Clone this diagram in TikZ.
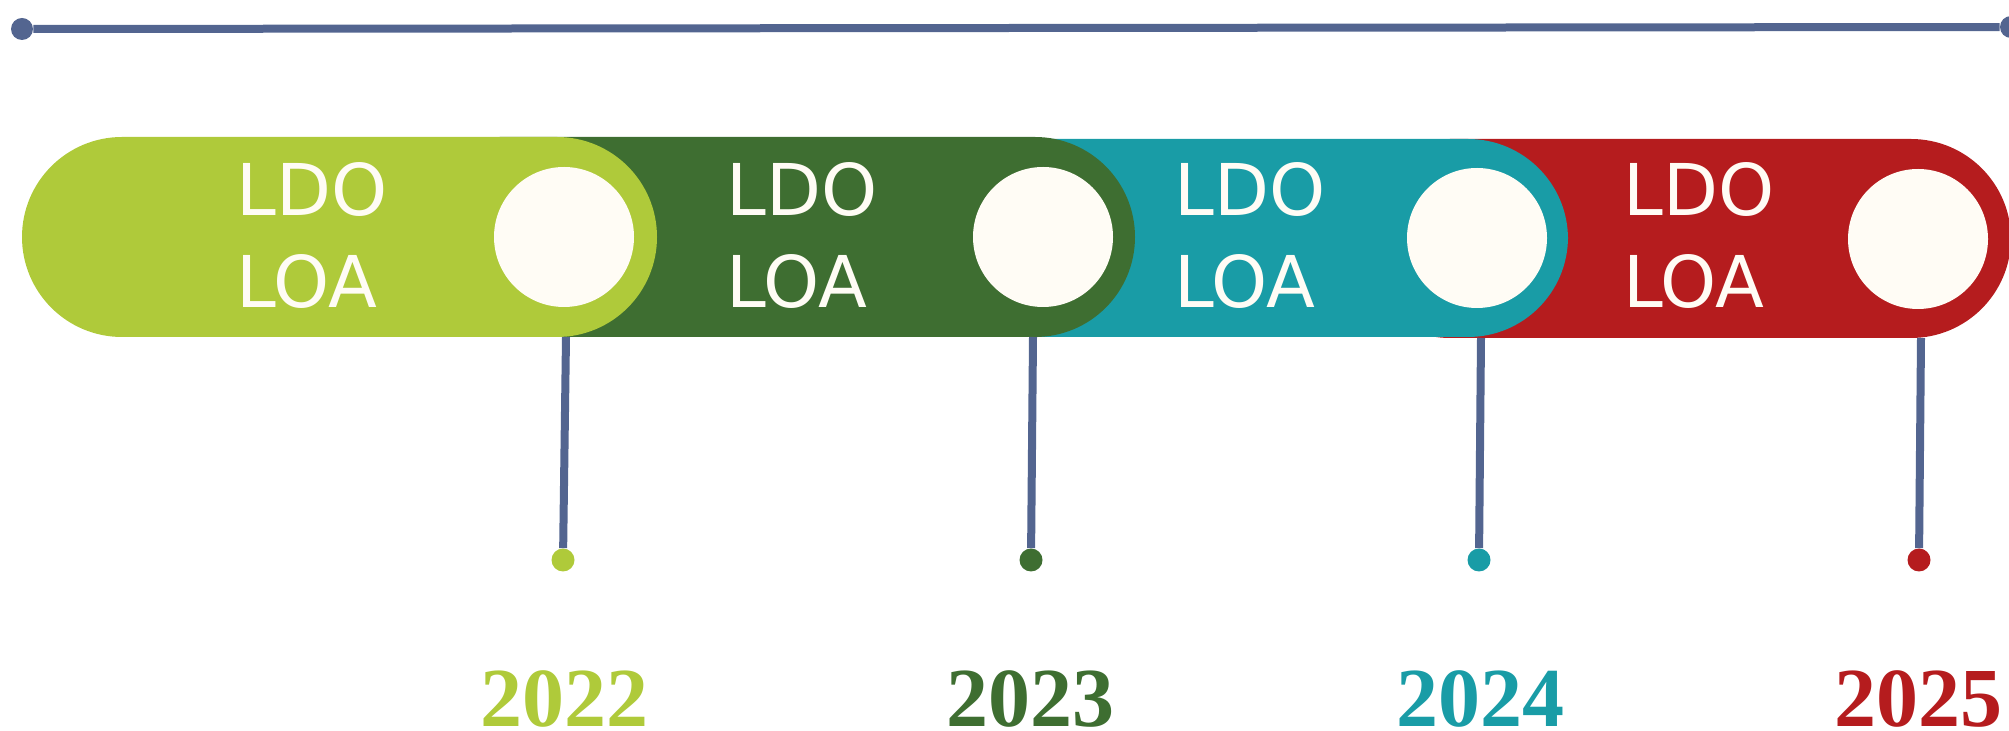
\documentclass[tikz,border=0pt]{standalone}
\usepackage{fontspec}
\setmainfont{Liberation Serif}
\newfontfamily\tagfont{DejaVu Sans}
\definecolor{yrlime}{RGB}{175,202,58}
\definecolor{yrgreen}{RGB}{62,110,49}
\definecolor{yrteal}{RGB}{25,156,166}
\definecolor{yrred}{RGB}{181,28,30}
\definecolor{railblue}{RGB}{83,101,144}
\definecolor{cream}{RGB}{255,252,245}

\begin{document}
\begin{tikzpicture}[x=0.5pt,y=-0.5pt]
\tikzstyle{every node}+=[inner sep=0pt]
\tikzstyle{rail}=[draw=railblue, line width=4pt]
\tikzstyle{stem}=[draw=railblue, line width=4pt]
\tikzstyle{pill}=[rounded corners=50pt]
\tikzstyle{hole}=[circle, fill=cream, minimum size=70pt]
\tikzstyle{pin}=[circle, minimum size=11.5pt]
\tikzstyle{tag}=[anchor=base west, text=cream, font=\tagfont\fontsize{35.7}{40}\selectfont]
\tikzstyle{year}=[anchor=base, font=\bfseries\fontsize{42}{46}\selectfont]
\useasboundingbox (0,0) rectangle (2009,731);
% top rail
\node[pin, fill=railblue, minimum size=11pt] (r0) at (22,29) {};
\node[pin, fill=railblue, minimum size=11pt] (r1) at (2011,27) {};
\draw[rail] (r0) -- (r1);
% bands, back to front
\fill[pill, yrred] (1350,139) rectangle (2011,338);
\fill[pill, yrteal] (900,139) rectangle (1568,337);
\fill[pill, yrgreen] (400,137) rectangle (1135,337);
\fill[pill, yrlime] (22,137) rectangle (657,337);
\node[hole] (h1) at (564,237) {};
\node[hole] (h2) at (1043,237) {};
\node[hole] (h3) at (1477,238) {};
\node[hole] (h4) at (1918,239) {};
\node[tag] (a1) at (236,216) {LDO};
\node[tag] (b1) at (236,308) {LOA};
\node[tag] (a2) at (726,216) {LDO};
\node[tag] (b2) at (726,308) {LOA};
\node[tag] (a3) at (1174,216) {LDO};
\node[tag] (b3) at (1174,308) {LOA};
\node[tag] (a4) at (1623,216) {LDO};
\node[tag] (b4) at (1623,308) {LOA};
% stems
\coordinate (s1) at (566,337);
\coordinate (s2) at (1033,337);
\coordinate (s3) at (1481,338);
\coordinate (s4) at (1921,338);
\node[pin, fill=yrlime] (d1) at (563,560) {};
\node[pin, fill=yrgreen] (d2) at (1031,560) {};
\node[pin, fill=yrteal] (d3) at (1479,560) {};
\node[pin, fill=yrred] (d4) at (1919,560) {};
\draw[stem] (s1) -- (d1);
\draw[stem] (s2) -- (d2);
\draw[stem] (s3) -- (d3);
\draw[stem] (s4) -- (d4);
% years
\node[year, text=yrlime] (y1) at (564,726) {2022};
\node[year, text=yrgreen] (y2) at (1030,726) {2023};
\node[year, text=yrteal] (y3) at (1480,726) {2024};
\node[year, text=yrred] (y4) at (1918,726) {2025};
\end{tikzpicture}
\end{document}
